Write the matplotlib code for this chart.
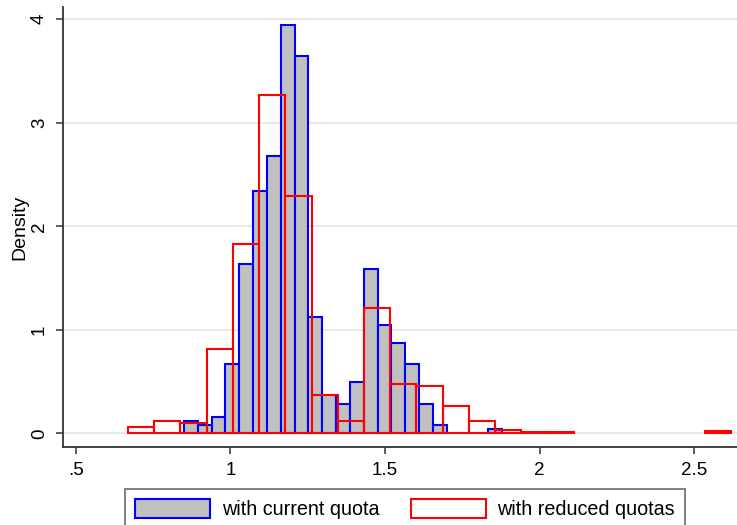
import numpy as np
import matplotlib
matplotlib.use("Agg")
import matplotlib.pyplot as plt
from matplotlib.patches import Patch

plt.rcParams['font.family'] = ['Liberation Sans', 'DejaVu Sans']

# histogram with current quota (bin start, bin width, density per bin)
cur_start = 0.850
cur_width = 0.0447
cur_density = [0.122, 0.077, 0.161, 0.667, 1.633, 2.345, 2.683, 3.948, 3.649, 1.127,
               0.372, 0.283, 0.499, 1.590, 1.043, 0.872, 0.666, 0.286, 0.083, 0.0,
               0.0, 0.0, 0.039]

# histogram with reduced quotas
red_start = 0.669
red_width = 0.0848
red_density = [0.058, 0.122, 0.103, 0.812, 1.829, 3.269, 2.293, 0.367, 0.122, 1.210,
               0.479, 0.457, 0.261, 0.122, 0.035, 0.015, 0.015, 0.0, 0.0, 0.0,
               0.0, 0.0, 0.020]

xticks = [0.5, 1, 1.5, 2, 2.5]
xticklabels = ['.5', '1', '1.5', '2', '2.5']
yticks = [0, 1, 2, 3, 4]

fig = plt.figure(figsize=(7.37, 5.25), dpi=100)
ax = fig.add_axes([0.0859, 0.149, 1 - 0.0859, 0.9867 - 0.149])

def draw_hist(start, width, dens, **kw):
    dens = np.array(dens)
    left = start + width * np.arange(len(dens))
    keep = dens > 0   # empty bins are not drawn
    ax.bar(left[keep], dens[keep], width=width, align='edge', **kw)

draw_hist(cur_start, cur_width, cur_density, color='#c0c0c0',
          edgecolor='#0000ff', linewidth=1.5, zorder=2)
draw_hist(red_start, red_width, red_density, fill=False,
          edgecolor='#ff0000', linewidth=1.5, zorder=3)

ax.set_xlim(0.460, 2.638)
ax.set_ylim(-0.129, 4.119)
ax.set_xticks(xticks)
ax.set_xticklabels(xticklabels)
ax.set_yticks(yticks)
ax.set_yticklabels([str(t) for t in yticks], rotation=90, va='center')
ax.grid(axis='y', color='#e8e8e8', linewidth=1.5, zorder=0)
ax.set_axisbelow(True)

for s in ['top', 'right']:
    ax.spines[s].set_visible(False)
for s in ['left', 'bottom']:
    ax.spines[s].set_color('#333333')
    ax.spines[s].set_linewidth(1.3)
ax.tick_params(direction='out', length=5, width=1.1, color='#333333',
               labelsize=13.5, pad=6)

ax.set_ylabel('Density', fontsize=14, labelpad=2)

handles = [Patch(facecolor='#c0c0c0', edgecolor='#0000ff', linewidth=1.5,
                 label='with current quota'),
           Patch(facecolor='none', edgecolor='#ff0000', linewidth=1.5,
                 label='with reduced quotas')]
leg = fig.legend(handles=handles, ncol=2, loc='upper center',
                 bbox_to_anchor=(0.5495, 0.068), fontsize=14.2, frameon=True,
                 fancybox=False, handlelength=3.8, handleheight=1.1,
                 handletextpad=0.6, columnspacing=1.6, borderpad=0.5,
                 borderaxespad=0)
leg.get_frame().set_edgecolor('#555555')
leg.get_frame().set_linewidth(1.3)

fig.savefig('out.png', dpi=100)
